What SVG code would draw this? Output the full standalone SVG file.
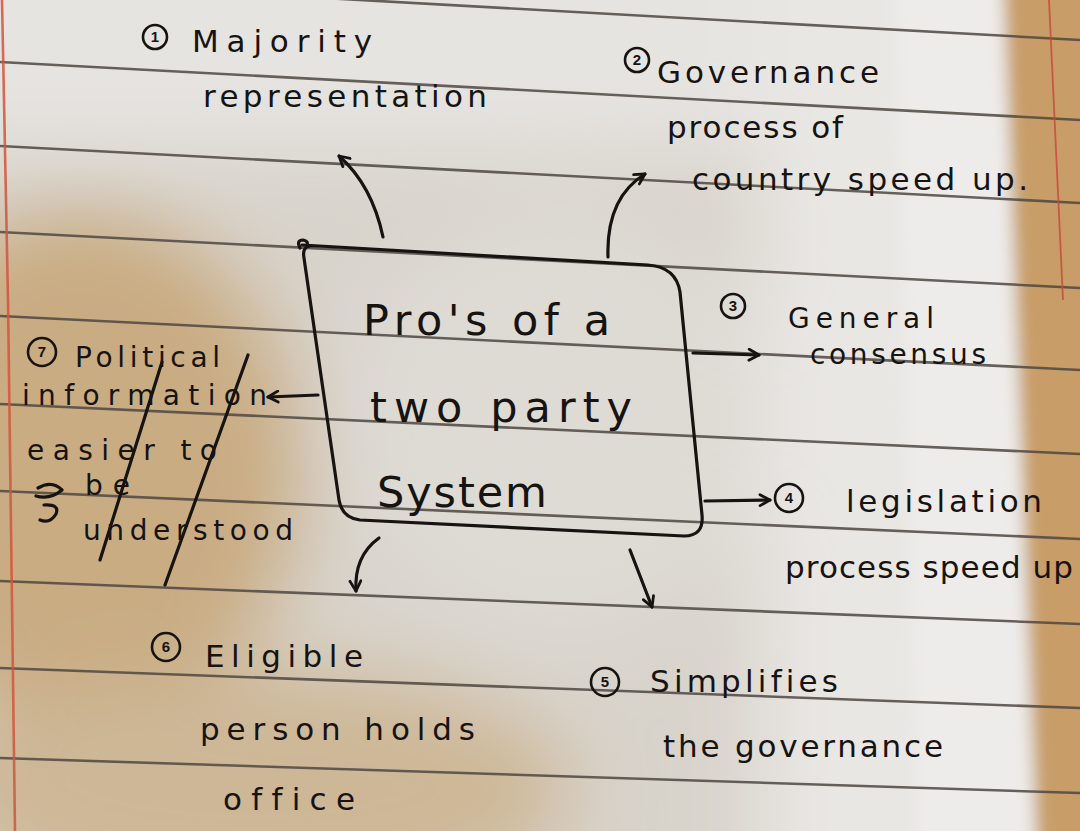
<svg xmlns="http://www.w3.org/2000/svg" width="1080" height="831" viewBox="0 0 1080 831">
<defs>
<style>
.ink{fill:none;stroke:#161311;stroke-width:3.2;stroke-linecap:round;stroke-linejoin:round}
.rule{stroke:#4f4842;stroke-width:2.6;opacity:.85}
.hw{font-family:"DejaVu Sans","Liberation Sans",sans-serif;fill:#161311;font-size:31px;font-variant-ligatures:none;font-feature-settings:"liga" 0}
.big{font-size:43px}
.sm{font-size:28px}
.num{font-family:"Liberation Sans","DejaVu Sans",sans-serif;fill:#161311;font-size:15px;font-weight:bold;text-anchor:middle}
.circ{fill:none;stroke:#161311;stroke-width:2.6}
</style>
<filter id="soft" filterUnits="userSpaceOnUse" x="-200" y="-200" width="1480" height="1231"><feGaussianBlur stdDeviation="40"/></filter>
<filter id="soft2" filterUnits="userSpaceOnUse" x="-200" y="-200" width="1480" height="1231"><feGaussianBlur stdDeviation="8"/></filter>
<marker id="ah" viewBox="0 0 14 14" refX="12" refY="7" markerWidth="14" markerHeight="14" markerUnits="userSpaceOnUse" orient="auto">
<path d="M2,1.5 L12,7 L2,12.5" fill="none" stroke="#161311" stroke-width="2.8" stroke-linecap="round" stroke-linejoin="round"/>
</marker>
</defs>

<g id="paper">
<rect width="1080" height="831" fill="#d8d3cb"/>
<g filter="url(#soft)">
<rect x="-100" y="-100" width="1000" height="250" fill="#e6e4e1"/>
<ellipse cx="80" cy="470" rx="220" ry="260" fill="#c9ac82"/>
<ellipse cx="250" cy="790" rx="320" ry="120" fill="#cdb796"/>
<ellipse cx="560" cy="420" rx="220" ry="220" fill="#dedad4"/>
<rect x="760" y="-100" width="230" height="1050" fill="#e9e7e4"/>
</g>
<g filter="url(#soft2)">
<polygon points="895,-50 1000,-50 1035,900 920,900" fill="#eeecea"/>
<polygon points="1003,-50 1130,-50 1130,900 1040,900" fill="#c89d68"/>
</g>
</g>

<g id="rules">
<line class="rule" x1="0" y1="-20" x2="1080" y2="40"/>
<line class="rule" x1="0" y1="62" x2="1080" y2="120"/>
<line class="rule" x1="0" y1="146" x2="1080" y2="203"/>
<line class="rule" x1="0" y1="232" x2="1080" y2="288"/>
<line class="rule" x1="0" y1="316" x2="1080" y2="370"/>
<line class="rule" x1="0" y1="404" x2="1080" y2="454"/>
<line class="rule" x1="0" y1="491" x2="1080" y2="539"/>
<line class="rule" x1="0" y1="581" x2="1080" y2="624"/>
<line class="rule" x1="0" y1="668" x2="1080" y2="708"/>
<line class="rule" x1="0" y1="758" x2="1080" y2="793"/>
<path d="M2 0 L8 300 L15 831" fill="none" stroke="#d4553c" stroke-width="2.6" opacity=".85"/>
<path d="M1049 0 L1056 150 L1063 300" fill="none" stroke="#c9463a" stroke-width="1.8" opacity=".8"/>
</g>

<g id="center">
<path class="ink" d="M302 245 L648 265 Q676 267 680 292 L702 515 Q704 536 684 536 L360 520 Q342 518 339 500 L304 258 Q302 247 310 246"/>
<path class="ink" stroke-width="2.2" d="M300 248 Q296 240 303 240 Q309 241 307 246"/>
<text class="hw big" x="363" y="335" textLength="247">Pro's of a</text>
<text class="hw big" x="370" y="422" textLength="262">two party</text>
<text class="hw big" x="377" y="507" textLength="170">System</text>
</g>

<g id="connectors">
<path class="ink" marker-end="url(#ah)" d="M383 237 Q372 185 339 156"/>
<path class="ink" marker-end="url(#ah)" d="M608 257 Q606 198 645 174"/>
<path class="ink" marker-end="url(#ah)" d="M693 353 L759 355"/>
<path class="ink" marker-end="url(#ah)" d="M705 501 L770 500"/>
<path class="ink" marker-end="url(#ah)" d="M630 550 L652 607"/>
<path class="ink" marker-end="url(#ah)" d="M379 538 Q354 556 356 591"/>
<path class="ink" marker-end="url(#ah)" d="M318 395 L268 397"/>
</g>

<g id="n1">
<circle class="circ" cx="155" cy="37" r="12"/><text class="num" x="155" y="42">1</text>
<text class="hw" x="192" y="52" textLength="180">Majority</text>
<text class="hw" x="203" y="107" textLength="284">representation</text>
</g>

<g id="n2">
<circle class="circ" cx="637" cy="60" r="12"/><text class="num" x="637" y="65">2</text>
<text class="hw" x="657" y="83" textLength="222">Governance</text>
<text class="hw" x="667" y="138" textLength="176">process of</text>
<text class="hw" x="692" y="190" textLength="336">country speed up.</text>
</g>

<g id="n3">
<circle class="circ" cx="733" cy="306" r="12"/><text class="num" x="733" y="311">3</text>
<text class="hw sm" x="788" y="328" textLength="146">General</text>
<text class="hw sm" x="810" y="364" textLength="176">consensus</text>
</g>

<g id="n4">
<circle class="circ" cx="789" cy="498" r="14"/><text class="num" x="789" y="503">4</text>
<text class="hw" x="846" y="512" textLength="196">legislation</text>
<text class="hw" x="785" y="578" textLength="288">process speed up</text>
</g>

<g id="n5">
<circle class="circ" cx="605" cy="682" r="14"/><text class="num" x="605" y="687">5</text>
<text class="hw" x="650" y="692" textLength="188">Simplifies</text>
<text class="hw" x="663" y="757" textLength="280">the governance</text>
</g>

<g id="n6">
<circle class="circ" cx="166" cy="647" r="14"/><text class="num" x="166" y="652">6</text>
<text class="hw" x="205" y="667" textLength="158">Eligible</text>
<text class="hw" x="200" y="740" textLength="275">person holds</text>
<text class="hw" x="223" y="810" textLength="132" font-size="33">office</text>
</g>

<g id="n7">
<circle class="circ" cx="42" cy="352" r="14"/><text class="num" x="42" y="357">7</text>
<text class="hw sm" x="75" y="367" textLength="145">Political</text>
<text class="hw sm" x="22" y="405" textLength="245">information</text>
<text class="hw sm" x="27" y="460" textLength="190">easier to</text>
<text class="hw sm" x="85" y="495" textLength="45">be</text>
<text class="hw sm" x="83" y="540" textLength="210">understood</text>
<path class="ink" stroke-width="2.6" d="M162 362 L100 560"/>
<path class="ink" stroke-width="2.6" d="M248 355 L165 585"/>
<path class="ink" stroke-width="2.6" d="M38 488 Q52 480 62 490 Q50 500 36 496 M44 505 Q60 504 56 514 Q50 524 40 520"/>
</g>
</svg>
